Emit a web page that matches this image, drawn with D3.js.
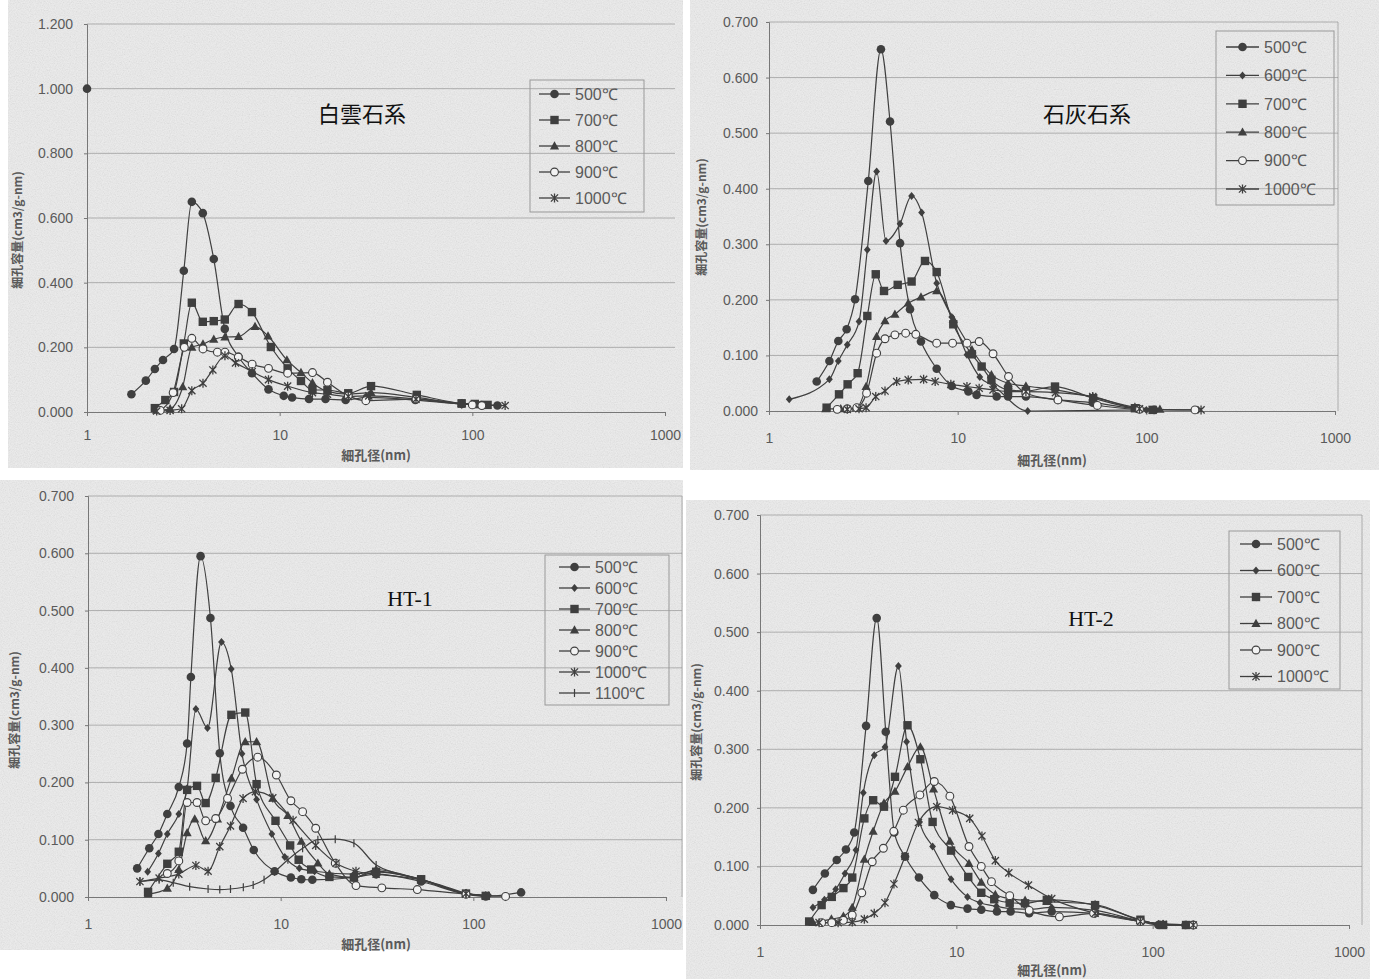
<!DOCTYPE html>
<html>
<head>
<meta charset="utf-8">
<script src="https://cdn.jsdelivr.net/npm/d3@7"></script>
<style>
  html, body { margin: 0; padding: 0; background: #ffffff; }
  svg { display: block; }
</style>
</head>
<body>
<svg id="chart" width="1379" height="979"></svg>
<script>
// ---- Data: pore diameter (nm), pore volume (cm3/g-nm) ----
const xTickValues = [1, 10, 100, 1000];

// 白雲石系
const dolomite500 = [[1.70,0.055],[2.02,0.097],[2.25,0.133],[2.48,0.161],[2.83,0.195],[3.18,0.437],[3.50,0.650],[3.99,0.615],[4.55,0.473],[5.19,0.257],[6.12,0.171],[7.18,0.120],[8.75,0.070],[10.5,0.050],[11.6,0.045],[14.2,0.040],[17.3,0.040],[22.0,0.037],[28.4,0.045],[50.6,0.037],[88,0.025],[112,0.022],[135,0.020]];
const dolomite500Lone = [[1.0,1.0]];
const dolomite700 = [[2.25,0.012],[2.55,0.037],[2.83,0.062],[3.18,0.212],[3.50,0.338],[3.99,0.279],[4.55,0.281],[5.19,0.286],[6.12,0.334],[7.18,0.309],[9.0,0.201],[11.0,0.135],[12.9,0.096],[14.8,0.068],[17.7,0.068],[22.7,0.058],[29.8,0.080],[51.5,0.053],[88,0.027],[103,0.025],[120,0.022]];
const dolomite800 = [[2.3,0.005],[2.7,0.010],[3.14,0.078],[3.5,0.200],[4.0,0.210],[4.55,0.225],[5.2,0.232],[6.12,0.233],[7.45,0.264],[8.7,0.235],[10.9,0.161],[12.9,0.122],[14.8,0.090],[17.7,0.064],[22.7,0.055],[29.8,0.060],[51.5,0.045],[88,0.025],[103,0.022]];
const dolomite900 = [[2.4,0.005],[2.8,0.060],[3.2,0.200],[3.5,0.228],[4.0,0.195],[4.75,0.185],[5.2,0.185],[6.1,0.170],[7.2,0.148],[8.75,0.135],[11,0.120],[14.8,0.122],[17.7,0.092],[22.7,0.050],[28,0.035],[51,0.040],[100,0.022],[112,0.020]];
const dolomite1000 = [[2.3,0.003],[2.7,0.005],[3.1,0.010],[3.5,0.066],[4.0,0.089],[4.5,0.130],[5.2,0.174],[5.9,0.152],[7.2,0.125],[8.75,0.100],[11,0.080],[14.8,0.060],[17.7,0.055],[22.7,0.048],[29,0.050],[51,0.040],[88,0.025],[148,0.020]];

// 石灰石系
const limestone500 = [[1.79,0.053],[2.09,0.090],[2.33,0.126],[2.58,0.147],[2.86,0.201],[3.36,0.414],[3.92,0.651],[4.38,0.521],[4.95,0.302],[5.59,0.183],[6.39,0.125],[7.74,0.076],[9.3,0.045],[11.4,0.035],[12.6,0.029],[16.1,0.026],[18.5,0.026],[23,0.026],[34,0.020],[52,0.015],[90,0.004],[110,0.002]];
const limestone600 = [[1.28,0.021],[2.09,0.057],[2.33,0.090],[2.60,0.119],[3.00,0.161],[3.32,0.290],[3.72,0.431],[4.17,0.306],[4.95,0.337],[5.70,0.387],[6.44,0.357],[7.74,0.230],[9.3,0.169],[11.2,0.101],[13.1,0.061],[15.5,0.045],[23.5,0.000],[100,0.002]];
const limestone700 = [[2.02,0.006],[2.35,0.030],[2.61,0.048],[2.95,0.068],[3.32,0.171],[3.68,0.246],[4.07,0.216],[4.81,0.227],[5.70,0.233],[6.71,0.270],[7.74,0.250],[9.48,0.156],[11.9,0.102],[13.4,0.080],[15.1,0.056],[18.5,0.038],[23,0.036],[32.8,0.044],[52.3,0.023],[87,0.005],[108,0.002]];
const limestone800 = [[2.0,0.004],[2.4,0.004],[2.9,0.005],[3.27,0.044],[3.72,0.134],[4.12,0.162],[4.65,0.174],[5.47,0.194],[6.39,0.205],[7.74,0.216],[9.48,0.165],[11.9,0.110],[15.1,0.065],[18.5,0.050],[23,0.045],[32.8,0.038],[52,0.025],[87,0.007],[118,0.003]];
const limestone900 = [[2.3,0.003],[2.6,0.004],[2.92,0.006],[3.29,0.032],[3.72,0.104],[4.12,0.130],[4.65,0.137],[5.3,0.140],[6.0,0.138],[7.74,0.122],[9.4,0.122],[11.2,0.122],[13.0,0.125],[15.4,0.103],[18.6,0.062],[23,0.032],[34,0.020],[55,0.010],[92,0.003],[181,0.002]];
const limestone1000 = [[2.6,0.003],[3.0,0.004],[3.27,0.006],[3.68,0.026],[4.12,0.036],[4.75,0.053],[5.47,0.056],[6.6,0.057],[7.6,0.053],[9.2,0.048],[11.2,0.044],[13.0,0.041],[15.4,0.038],[18.6,0.035],[23,0.035],[33,0.033],[52,0.026],[92,0.004],[195,0.002]];

// HT-1
const ht1_500 = [[1.80,0.050],[2.08,0.085],[2.32,0.110],[2.58,0.145],[2.96,0.192],[3.27,0.268],[3.42,0.384],[3.84,0.595],[4.32,0.487],[4.83,0.251],[5.49,0.159],[6.38,0.121],[7.25,0.082],[9.3,0.045],[11.3,0.034],[12.8,0.031],[14.6,0.030],[24,0.034],[31.3,0.040],[53.6,0.027],[91.6,0.005],[116,0.001],[177,0.008]];
const ht1_600 = [[2.04,0.044],[2.32,0.076],[2.58,0.110],[2.96,0.145],[3.27,0.190],[3.63,0.328],[4.17,0.295],[4.93,0.445],[5.54,0.398],[6.3,0.250],[7.5,0.170],[9.0,0.110],[10.5,0.070],[12.5,0.050],[15,0.045],[24,0.040],[31.3,0.045],[53.6,0.030],[91.6,0.006],[120,0.003]];
const ht1_700 = [[2.05,0.009],[2.58,0.058],[2.96,0.079],[3.27,0.187],[3.68,0.194],[4.08,0.164],[4.6,0.208],[5.55,0.318],[6.55,0.322],[7.5,0.197],[9.4,0.133],[11.2,0.090],[12.4,0.065],[14.4,0.048],[17.9,0.035],[24,0.034],[31.3,0.044],[53.6,0.031],[91.6,0.006],[116,0.002]];
const ht1_800 = [[2.05,0.005],[2.58,0.015],[2.96,0.048],[3.27,0.112],[3.58,0.136],[4.08,0.098],[4.7,0.136],[5.55,0.207],[6.55,0.271],[7.5,0.271],[9.1,0.172],[10.9,0.142],[12.8,0.097],[15.6,0.059],[17.9,0.040],[24,0.034],[31.3,0.048],[53.6,0.030],[91.6,0.006],[116,0.002]];
const ht1_900 = [[2.58,0.041],[2.96,0.063],[3.27,0.165],[3.68,0.165],[4.08,0.133],[4.6,0.137],[5.3,0.172],[6.33,0.223],[7.6,0.244],[9.5,0.213],[11.3,0.168],[13.0,0.149],[15.2,0.120],[19.2,0.059],[24.6,0.020],[33.5,0.016],[51.2,0.013],[91.6,0.005],[147,0.001]];
const ht1_1000 = [[1.86,0.027],[2.34,0.033],[2.96,0.040],[3.63,0.055],[4.2,0.045],[4.83,0.088],[5.49,0.124],[6.38,0.172],[7.4,0.184],[9.1,0.173],[11.6,0.134],[15.2,0.090],[19.4,0.059],[24.6,0.045],[31.3,0.040],[53.6,0.030],[91.6,0.006]];
const ht1_1100 = [[1.86,0.027],[2.34,0.030],[2.77,0.025],[3.37,0.018],[4.2,0.014],[4.83,0.013],[5.49,0.014],[6.4,0.017],[7.2,0.021],[8.2,0.030],[9.3,0.044],[10.9,0.065],[13,0.085],[15.6,0.100],[19.2,0.101],[24,0.094],[31.3,0.056],[53.6,0.031],[91.6,0.006],[116,0.002]];

// HT-2
const ht2_500 = [[1.86,0.060],[2.14,0.088],[2.46,0.111],[2.74,0.129],[3.02,0.158],[3.47,0.340],[3.93,0.524],[4.37,0.330],[4.83,0.158],[5.48,0.117],[6.45,0.081],[7.72,0.051],[9.38,0.034],[11.4,0.028],[13.4,0.026],[16.1,0.023],[18.9,0.023],[23.5,0.020],[30.6,0.023],[50.9,0.020],[86.6,0.006],[107,0.000],[147,0.000]];
const ht2_600 = [[1.86,0.030],[2.13,0.043],[2.43,0.061],[2.71,0.088],[3.08,0.128],[3.36,0.226],[3.82,0.290],[4.33,0.304],[5.07,0.442],[5.58,0.313],[6.5,0.176],[7.57,0.134],[9.4,0.078],[11.4,0.048],[13.2,0.038],[16,0.032],[19,0.028],[23.5,0.027],[30.6,0.030],[51,0.025],[87,0.007],[107,0.002],[147,0.000]];
const ht2_700 = [[1.78,0.006],[2.06,0.034],[2.32,0.048],[2.66,0.063],[2.95,0.081],[3.40,0.182],[3.77,0.213],[4.28,0.202],[4.87,0.253],[5.64,0.341],[6.56,0.283],[7.57,0.176],[9.4,0.127],[11.5,0.082],[13.4,0.055],[15.6,0.044],[18.7,0.038],[22.4,0.037],[28.9,0.043],[50.9,0.034],[86.6,0.009],[113,0.000],[148,0.000]];
const ht2_800 = [[1.86,0.004],[2.31,0.010],[2.66,0.015],[2.95,0.030],[3.40,0.112],[3.77,0.160],[4.28,0.208],[4.87,0.228],[5.64,0.270],[6.56,0.304],[7.65,0.232],[9.27,0.143],[11.6,0.105],[13.4,0.073],[15.8,0.052],[18.7,0.045],[22.4,0.042],[28.9,0.040],[50.9,0.035],[86.6,0.008],[113,0.001],[148,0.000]];
const ht2_900 = [[2.06,0.004],[2.32,0.004],[2.66,0.008],[2.95,0.017],[3.3,0.055],[3.73,0.108],[4.25,0.131],[4.8,0.160],[5.37,0.196],[6.52,0.222],[7.72,0.245],[9.27,0.220],[11.6,0.134],[13.4,0.100],[15.1,0.074],[18.7,0.050],[23.5,0.025],[33.5,0.014],[50,0.020],[86.6,0.006],[161,0.000]];
const ht2_1000 = [[2.0,0.004],[2.5,0.004],[2.95,0.005],[3.4,0.010],[3.82,0.020],[4.33,0.038],[4.81,0.070],[5.48,0.117],[6.41,0.175],[7.95,0.202],[9.57,0.196],[11.7,0.182],[13.5,0.152],[15.8,0.110],[18.5,0.089],[23.3,0.068],[30.6,0.045],[50.9,0.020],[86.6,0.006],[113,0.001],[161,0.000]];

// ---- Layout ----
const svg = d3.select('#chart');
const INK = '#3f3f3f';
const TEXT = '#5a5a5a';

const defs = svg.append('defs');
const grain = defs.append('filter').attr('id', 'grain').attr('x', 0).attr('y', 0).attr('width', 1).attr('height', 1);
grain.append('feTurbulence').attr('type', 'fractalNoise').attr('baseFrequency', 0.85).attr('numOctaves', 2).attr('seed', 7);
grain.append('feColorMatrix').attr('type', 'matrix')
  .attr('values', '1 0 0 0 0  1 0 0 0 0  1 0 0 0 0  0 0 0 0 1');

// paper areas of the four panels
const paper = [
  [8, 0, 675, 468], [690, 0, 689, 470], [0, 480, 683, 470], [686, 500, 684, 479]
];
paper.forEach(([x, y, w, h]) => {
  svg.append('rect').attr('x', x).attr('y', y).attr('width', w).attr('height', h).attr('fill', '#ededed');
  svg.append('rect').attr('x', x).attr('y', y).attr('width', w).attr('height', h)
    .attr('filter', 'url(#grain)').attr('opacity', 0.13);
});

// marker drawing
function drawMarker(g, type) {
  switch (type) {
    case 'circle':
      g.append('circle').attr('r', 4.3).attr('fill', INK); break;
    case 'diamond':
      g.append('path').attr('d', 'M0,-4L3.4,0L0,4L-3.4,0Z').attr('fill', INK); break;
    case 'square':
      g.append('rect').attr('x', -4.2).attr('y', -4.2).attr('width', 8.4).attr('height', 8.4).attr('fill', INK); break;
    case 'triangle':
      g.append('path').attr('d', 'M0,-4.8L4.6,3.4L-4.6,3.4Z').attr('fill', INK); break;
    case 'open':
      g.append('circle').attr('r', 3.9).attr('fill', '#f2f2f2').attr('stroke', INK).attr('stroke-width', 1.1); break;
    case 'star':
      g.append('path').attr('d', 'M-3.6,-3.6L3.6,3.6M-3.6,3.6L3.6,-3.6M0,-4.5L0,4.5')
        .attr('stroke', INK).attr('stroke-width', 1.3).attr('fill', 'none'); break;
    case 'plus':
      g.append('path').attr('d', 'M0,-4L0,4').attr('stroke', INK).attr('stroke-width', 1.2).attr('fill', 'none'); break;
  }
}

function drawPanel(p) {
  const g = svg.append('g');
  const x = d3.scaleLog().domain([1, 1000]).range([p.left, p.x1000]);
  const y = d3.scaleLinear().domain([0, p.yMax]).range([p.bottom, p.top]);
  const yTicks = d3.range(0, p.yMax + 1e-9, p.yStep);

  // grid lines
  g.append('g').selectAll('line').data(yTicks.slice(1)).join('line')
    .attr('x1', p.left).attr('x2', p.gridRight)
    .attr('y1', d => y(d)).attr('y2', d => y(d))
    .attr('stroke', '#8c8c8c').attr('stroke-width', 0.9).attr('opacity', 0.7);
  if (p.rightBorder) {
    g.append('line').attr('x1', p.gridRight).attr('x2', p.gridRight)
      .attr('y1', p.top).attr('y2', p.bottom)
      .attr('stroke', '#8c8c8c').attr('stroke-width', 0.9).attr('opacity', 0.7);
  }

  // y axis
  const yAxis = g.append('g').attr('transform', `translate(${p.left},0)`)
    .call(d3.axisLeft(y).tickValues(yTicks).tickFormat(d3.format('.3f')).tickSize(3).tickPadding(p.yPad));
  yAxis.select('.domain').attr('stroke', '#777');
  yAxis.selectAll('.tick line').attr('stroke', '#777');
  yAxis.selectAll('text').attr('fill', TEXT).style('font-family', 'Arial, "Liberation Sans", sans-serif').style('font-size', '14px');

  // x axis
  const xAxis = g.append('g').attr('transform', `translate(0,${p.bottom})`)
    .call(d3.axisBottom(x).tickValues(xTickValues).tickFormat(d3.format('d')).tickSize(4).tickPadding(p.xPad));
  xAxis.select('.domain').attr('stroke', '#777');
  xAxis.selectAll('.tick line').attr('stroke', '#777');
  xAxis.selectAll('text').attr('fill', TEXT).style('font-family', 'Arial, "Liberation Sans", sans-serif').style('font-size', '14px');

  // axis titles
  g.append('text').attr('x', p.xTitle[0]).attr('y', p.xTitle[1]).attr('text-anchor', 'middle')
    .attr('fill', TEXT).style('font-family', '"Noto Sans CJK JP", sans-serif').style('font-size', '13px').style('font-weight', 'bold')
    .text('細孔径(nm)');
  g.append('text').attr('transform', `translate(${p.yTitle[0]},${p.yTitle[1]}) rotate(-90)`).attr('text-anchor', 'middle')
    .attr('fill', TEXT).style('font-family', '"Noto Sans CJK JP", sans-serif').style('font-size', '12px').style('font-weight', 'bold')
    .text('細孔容量(cm3/g-nm)');

  // panel name
  g.append('text').attr('x', p.name[0]).attr('y', p.name[1]).attr('text-anchor', 'middle')
    .attr('fill', '#111').style('font-family', '"Liberation Serif", "Noto Sans CJK JP", serif').style('font-size', '22px')
    .text(p.name[2]);

  // series
  const line = d3.line().x(d => x(d[0])).y(d => y(d[1])).curve(d3.curveMonotoneX);
  p.series.forEach(s => {
    g.append('path').attr('d', line(s.data)).attr('fill', 'none').attr('stroke', INK).attr('stroke-width', 1.2);
  });
  p.series.forEach(s => {
    g.append('g').selectAll('g').data(s.data).join('g')
      .attr('transform', d => `translate(${x(d[0])},${y(d[1])})`)
      .each(function () { drawMarker(d3.select(this), s.marker); });
  });
  (p.extraPoints || []).forEach(s => {
    g.append('g').selectAll('g').data(s.data).join('g')
      .attr('transform', d => `translate(${x(d[0])},${y(d[1])})`)
      .each(function () { drawMarker(d3.select(this), s.marker); });
  });

  // legend
  const L = p.legend;
  g.append('rect').attr('x', L.x).attr('y', L.y).attr('width', L.w).attr('height', L.h)
    .attr('fill', 'none').attr('stroke', '#999').attr('stroke-width', 1);
  p.series.forEach((s, i) => {
    const cy = L.firstRow + i * L.step;
    g.append('line').attr('x1', L.lineX).attr('x2', L.lineX + L.lineW).attr('y1', cy).attr('y2', cy)
      .attr('stroke', INK).attr('stroke-width', 1.3);
    const m = g.append('g').attr('transform', `translate(${L.lineX + L.lineW / 2},${cy})`);
    drawMarker(m, s.marker);
    g.append('text').attr('x', L.lineX + L.lineW + 5).attr('y', cy).attr('dy', '0.36em')
      .attr('fill', TEXT).style('font-family', 'Arial, "Liberation Sans", sans-serif').style('font-size', '16px')
      .text(s.label);
  });
}

const panels = [
  {
    left: 87, x1000: 665, top: 24, bottom: 412, yMax: 1.2, yStep: 0.2, gridRight: 675, yPad: 11, xPad: 14,
    xTitle: [376, 460], yTitle: [22, 230], name: [362, 122, '白雲石系'],
    series: [
      { label: '500℃', marker: 'circle', data: dolomite500 },
      { label: '700℃', marker: 'square', data: dolomite700 },
      { label: '800℃', marker: 'triangle', data: dolomite800 },
      { label: '900℃', marker: 'open', data: dolomite900 },
      { label: '1000℃', marker: 'star', data: dolomite1000 }
    ],
    extraPoints: [{ marker: 'circle', data: dolomite500Lone }],
    legend: { x: 530, y: 80, w: 114, h: 132, firstRow: 94, step: 26, lineX: 539, lineW: 31 }
  },
  {
    left: 769, x1000: 1335, top: 22, bottom: 411, yMax: 0.7, yStep: 0.1, gridRight: 1338, rightBorder: true, yPad: 8, xPad: 18,
    xTitle: [1052, 465], yTitle: [706, 217], name: [1087, 122, '石灰石系'],
    series: [
      { label: '500℃', marker: 'circle', data: limestone500 },
      { label: '600℃', marker: 'diamond', data: limestone600 },
      { label: '700℃', marker: 'square', data: limestone700 },
      { label: '800℃', marker: 'triangle', data: limestone800 },
      { label: '900℃', marker: 'open', data: limestone900 },
      { label: '1000℃', marker: 'star', data: limestone1000 }
    ],
    legend: { x: 1216, y: 31, w: 118, h: 174, firstRow: 47, step: 28.4, lineX: 1226, lineW: 33 }
  },
  {
    left: 88, x1000: 666, top: 496, bottom: 897, yMax: 0.7, yStep: 0.1, gridRight: 682, rightBorder: true, yPad: 11, xPad: 18,
    xTitle: [376, 949], yTitle: [19, 710], name: [410, 606, 'HT-1'],
    series: [
      { label: '500℃', marker: 'circle', data: ht1_500 },
      { label: '600℃', marker: 'diamond', data: ht1_600 },
      { label: '700℃', marker: 'square', data: ht1_700 },
      { label: '800℃', marker: 'triangle', data: ht1_800 },
      { label: '900℃', marker: 'open', data: ht1_900 },
      { label: '1000℃', marker: 'star', data: ht1_1000 },
      { label: '1100℃', marker: 'plus', data: ht1_1100 }
    ],
    legend: { x: 545, y: 555, w: 124, h: 150, firstRow: 567, step: 21, lineX: 559, lineW: 31 }
  },
  {
    left: 760, x1000: 1349, top: 515, bottom: 925, yMax: 0.7, yStep: 0.1, gridRight: 1362, rightBorder: true, yPad: 8, xPad: 18,
    xTitle: [1052, 975], yTitle: [701, 722], name: [1091, 626, 'HT-2'],
    series: [
      { label: '500℃', marker: 'circle', data: ht2_500 },
      { label: '600℃', marker: 'diamond', data: ht2_600 },
      { label: '700℃', marker: 'square', data: ht2_700 },
      { label: '800℃', marker: 'triangle', data: ht2_800 },
      { label: '900℃', marker: 'open', data: ht2_900 },
      { label: '1000℃', marker: 'star', data: ht2_1000 }
    ],
    legend: { x: 1229, y: 531, w: 111, h: 158, firstRow: 544, step: 26.5, lineX: 1240, lineW: 32 }
  }
];

panels.forEach(drawPanel);
</script>
</body>
</html>
